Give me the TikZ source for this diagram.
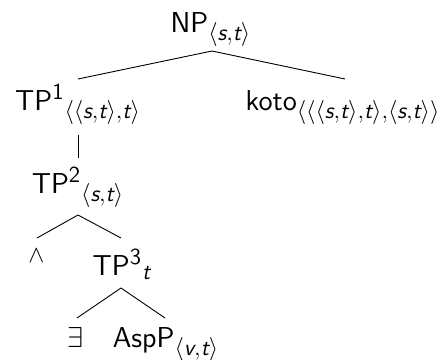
\documentclass[tikz,border=0pt]{standalone}
\usepackage{tikz}
\usepackage{amsmath, amssymb}
\DeclareMathSizes{14.4}{14.4}{11.5}{9}
% sans oblique letters for the types
\newcommand{\tv}[1]{\text{\itshape #1}}
\newcommand{\st}{\ensuremath\langle\tv{s},\tv{t}\rangle}
\newcommand{\idx}[1]{^{\text{#1}}{}}

\tikzset{
	cat/.style={font=\sffamily\Large, inner sep=0pt, anchor=base},
	branch/.style={line width=0.45pt}
}

\begin{document}
\begin{tikzpicture}[x=0.5pt, y=-0.5pt]
	\useasboundingbox (0,0) rectangle (447,360);

	\node[cat] (np) at (211,32) {NP$_{\st}$};
	\node[cat] (tp1) at (78,110) {TP$\idx{1}_{\langle\st,\tv{t}\rangle}$};
	\node[cat] (koto) at (343,110) {koto$_{\langle\langle\st,\tv{t}\rangle,\st\rangle}$};
	\node[cat] (tp2) at (78,193) {TP$\idx{2}_{\st}$};
	\node[cat] (conj) at (37,273) {$^\wedge$};
	\node[cat] (tp3) at (122,275) {TP$\idx{3}_{\tv{t}}$};
	\node[cat] (ex) at (76,347) {$\exists$};
	\node[cat] (asp) at (166,347) {AspP$_{\langle\tv{v},\tv{t}\rangle}$};

	\draw[branch] ([xshift=0.5pt,yshift=-9.5pt]np.base) -- ([yshift=15.5pt]tp1.base);
	\draw[branch] ([xshift=0.5pt,yshift=-9.5pt]np.base) -- ([xshift=1pt,yshift=15.5pt]koto.base);
	\draw[branch] ([yshift=-12.5pt]tp1.base) -- ([yshift=17.5pt]tp2.base);
	\draw[branch] ([yshift=-11pt]tp2.base) -- ([yshift=17.5pt]conj.base);
	\draw[branch] ([yshift=-11pt]tp2.base) -- ([xshift=-0.5pt,yshift=18.5pt]tp3.base);
	\draw[branch] ([xshift=-0.5pt,yshift=-6.5pt]tp3.base) -- ([xshift=0.5pt,yshift=14.5pt]ex.base);
	\draw[branch] ([xshift=-0.5pt,yshift=-6.5pt]tp3.base) -- ([xshift=-0.5pt,yshift=14.5pt]asp.base);
\end{tikzpicture}
\end{document}
